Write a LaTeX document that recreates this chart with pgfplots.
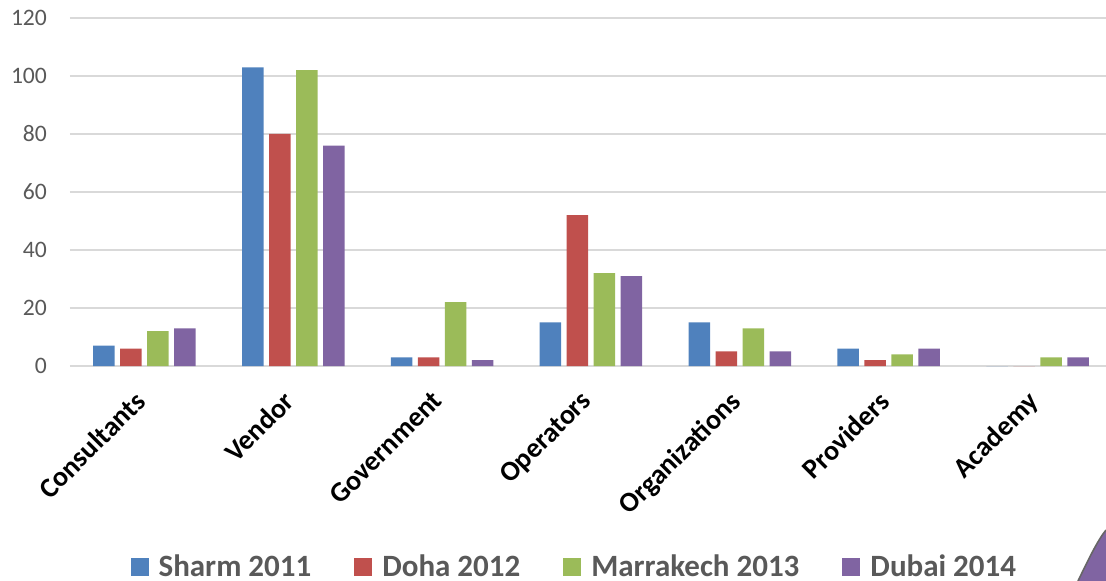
\documentclass[border=0pt]{standalone}
\usepackage{pgfplots}
\pgfplotsset{compat=1.18}
\usepackage{fontspec}
\setmainfont{Carlito}
\definecolor{cBlue}{HTML}{4F81BD}
\definecolor{cRed}{HTML}{C0504D}
\definecolor{cGreen}{HTML}{9BBB59}
\definecolor{cPurple}{HTML}{8064A2}
\definecolor{cGrid}{HTML}{D9D9D9}
\definecolor{cText}{HTML}{595959}
\begin{document}
\begin{tikzpicture}
\begin{axis}[
  at={(72.2pt,-183pt)}, anchor=origin,
  scale only axis,
  width=521pt, height=174pt,
  xmin=-0.5, xmax=6.5,
  ymin=0, ymax=120,
  ytick={0,20,...,120},
  xtick={0,1,2,3,4,5,6},
  xticklabels={Consultants,Vendor,Government,Operators,Organizations,Providers,Academy},
  axis line style={draw=none},
  ymajorgrids,
  grid style={draw=cGrid, line width=1pt},
  major tick length=0pt,
  /pgf/number format/assume math mode=true,
  yticklabel style={font=\fontsize{11.8}{12}\selectfont, text=cText, anchor=east, xshift=-8pt},
  xticklabel style={font=\fontsize{14}{14}\selectfont\bfseries, text=black, rotate=45, anchor=north east, xshift=-8.8pt, yshift=-0.8pt},
  ybar=2.75pt,
  bar width=10.75pt,
  legend style={draw=none, fill=none, at={(0.485,-0.578)}, anchor=center,
    legend columns=4, font=\fontsize{15.5}{16}\selectfont\bfseries, text=cText,
    /tikz/every even column/.append style={column sep=19.5pt},
    legend cell align=left},
  legend image code/.code={\path[#1,draw=none] (0pt,-4.5pt) rectangle (9pt,4.5pt); \path (12pt,0pt);},
]
\addplot[fill=cBlue, draw=none] coordinates {(0,7) (1,103) (2,3) (3,15) (4,15) (5,6) (6,0)};
\addplot[fill=cRed, draw=none] coordinates {(0,6) (1,80) (2,3) (3,52) (4,5) (5,2) (6,0)};
\addplot[fill=cGreen, draw=none] coordinates {(0,12) (1,102) (2,22) (3,32) (4,13) (5,4) (6,3)};
\addplot[fill=cPurple, draw=none] coordinates {(0,13) (1,76) (2,2) (3,31) (4,5) (5,6) (6,3)};
\legend{Sharm 2011, Doha 2012, Marrakech 2013, Dubai 2014}
\end{axis}
\fill[cPurple] (539pt,-290.5pt) .. controls (545pt,-278pt) and (549pt,-270pt) .. (553pt,-265pt) -- (553pt,-290.5pt) -- cycle;
\draw[black!60, line width=0.8pt] (539pt,-290.5pt) .. controls (545pt,-278pt) and (549pt,-270pt) .. (553pt,-265pt);
\pgfresetboundingbox
\useasboundingbox (0,0) rectangle (553pt,-290.5pt);
\end{tikzpicture}
\end{document}
